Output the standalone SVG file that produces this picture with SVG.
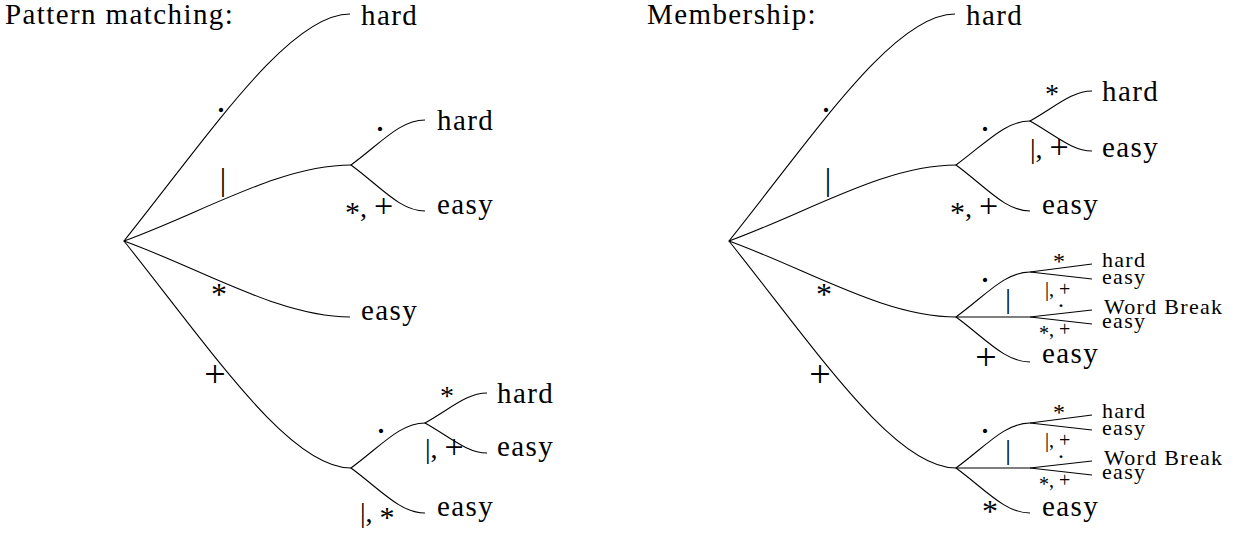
<svg xmlns="http://www.w3.org/2000/svg" width="1245" height="533" viewBox="0 0 1245 533">
<style>
text { font-family: "Liberation Serif", "DejaVu Serif", serif; fill: #000; }
.lf { font-size: 29px; letter-spacing: 1.4px; }
.sl { font-size: 22px; letter-spacing: 1.3px; }
.dot { font-size: 36px; text-anchor: middle; }
.bar { font-size: 32px; text-anchor: middle; }
.bar2 { font-size: 28px; text-anchor: middle; }
.ast { font-size: 32px; text-anchor: middle; }
.ast2 { font-size: 28px; text-anchor: middle; }
.pls { font-size: 38px; text-anchor: middle; }
.lab { font-size: 28px; }
.sm { font-size: 20px; }
.smc { font-size: 24px; text-anchor: middle; }
.edges path { fill: none; stroke: #000; stroke-width: 1.1; }
</style>
<rect width="1245" height="533" fill="#fff"/>
<g id="connectors" class="edges">
<path d="M124,241 C214,128 290,14 350,14"/>
<path d="M124,241 C204,212 280,165 351,165"/>
<path d="M124,241 C204,270 280,317 350,317"/>
<path d="M124,241 C214,354 290,468 351,468"/>
<path d="M351,165 C381,143 400,120 425,120"/>
<path d="M351,165 C381,187 400,211 425,211"/>
<path d="M351,468 C381,446 400,423 425,423"/>
<path d="M351,468 C381,490 400,513 425,513"/>
<path d="M425,423 C450,409 467,393 487,393"/>
<path d="M425,423 C450,437 467,453 487,453"/>
<path d="M729,241 C819,128 895,14 955,14"/>
<path d="M729,241 C809,212 885,165 956,165"/>
<path d="M729,241 C809,270 885,317 956,317"/>
<path d="M729,241 C819,354 895,468 956,468"/>
<path d="M956,165 C986,143 1005,121 1030,121"/>
<path d="M956,165 C986,187 1005,211 1030,211"/>
<path d="M1030,121 C1055,107 1072,91 1092,91"/>
<path d="M1030,121 C1055,135 1072,151 1092,151"/>
<path d="M956,317 C986,295 1005,272 1030,272"/>
<path d="M956,317 L1030,317"/>
<path d="M956,317 C986,339 1005,362 1030,362"/>
<path d="M1030,272 L1092,264"/>
<path d="M1030,272 L1092,279"/>
<path d="M1030,317 L1092,310"/>
<path d="M1030,317 L1092,324"/>
<path d="M956,468 C986,446 1005,423 1030,423"/>
<path d="M956,468 L1030,468"/>
<path d="M956,468 C986,490 1005,513 1030,513"/>
<path d="M1030,423 L1092,415"/>
<path d="M1030,423 L1092,430"/>
<path d="M1030,468 L1092,461"/>
<path d="M1030,468 L1092,475"/>
</g>
<g id="edge-labels">
<text class="dot" x="221" y="122">·</text>
<text class="bar" x="223" y="190">|</text>
<text class="ast" x="219" y="305">*</text>
<text class="pls" x="215" y="387">+</text>
<text class="dot" x="380" y="141">·</text>
<text class="lab" x="345" y="217"><tspan font-size="30" dy="5">*</tspan><tspan dy="-5">, </tspan><tspan font-size="34">+</tspan></text>
<text class="dot" x="381" y="443">·</text>
<text class="ast2" x="447" y="405">*</text>
<text class="lab" x="425" y="458">|, <tspan font-size="34">+</tspan></text>
<text class="lab" x="360" y="522">|, <tspan font-size="30" dy="5">*</tspan></text>
<text class="dot" x="826" y="122">·</text>
<text class="bar" x="828" y="190">|</text>
<text class="ast" x="824" y="305">*</text>
<text class="pls" x="820" y="387">+</text>
<text class="dot" x="985" y="141">·</text>
<text class="lab" x="950" y="217"><tspan font-size="30" dy="5">*</tspan><tspan dy="-5">, </tspan><tspan font-size="34">+</tspan></text>
<text class="ast2" x="1052" y="103">*</text>
<text class="lab" x="1030" y="158">|, <tspan font-size="34">+</tspan></text>
<text class="dot" x="985" y="292">·</text>
<text class="bar2" x="1008" y="308">|</text>
<text class="smc" x="1059" y="269">*</text>
<text class="sm" x="1045" y="296">|, +</text>
<text class="smc" x="1061" y="313">·</text>
<text class="sm" x="1039" y="336"><tspan dy="4">*</tspan><tspan dy="-4">, +</tspan></text>
<text class="pls" x="986" y="370">+</text>
<text class="dot" x="985" y="443">·</text>
<text class="bar2" x="1008" y="459">|</text>
<text class="smc" x="1059" y="420">*</text>
<text class="sm" x="1045" y="447">|, +</text>
<text class="smc" x="1061" y="464">·</text>
<text class="sm" x="1039" y="487"><tspan dy="4">*</tspan><tspan dy="-4">, +</tspan></text>
<text class="ast" x="990" y="522">*</text>
</g>
<g id="title-left"><text class="lf" x="5" y="24">Pattern matching:</text></g>
<g id="title-right"><text class="lf" x="647" y="24">Membership:</text></g>
<g id="L-root"><circle cx="124" cy="241" r="0.6" fill="#000"/></g>
<g id="L-hard1"><text class="lf" x="361" y="25">hard</text></g>
<g id="L-nA"><circle cx="351" cy="165" r="0.6" fill="#000"/></g>
<g id="L-hard2"><text class="lf" x="437" y="130">hard</text></g>
<g id="L-easy1"><text class="lf" x="437" y="214">easy</text></g>
<g id="L-easy2"><text class="lf" x="361" y="320">easy</text></g>
<g id="L-nB"><circle cx="351" cy="468" r="0.6" fill="#000"/></g>
<g id="L-nC"><circle cx="425" cy="423" r="0.6" fill="#000"/></g>
<g id="L-hard3"><text class="lf" x="497" y="403">hard</text></g>
<g id="L-easy3"><text class="lf" x="497" y="456">easy</text></g>
<g id="L-easy4"><text class="lf" x="437" y="516">easy</text></g>
<g id="R-root"><circle cx="729" cy="241" r="0.6" fill="#000"/></g>
<g id="R-hard1"><text class="lf" x="966" y="25">hard</text></g>
<g id="R-nA"><circle cx="956" cy="165" r="0.6" fill="#000"/></g>
<g id="R-nC"><circle cx="1030" cy="121" r="0.6" fill="#000"/></g>
<g id="R-hard2"><text class="lf" x="1102" y="101">hard</text></g>
<g id="R-easy1"><text class="lf" x="1102" y="157">easy</text></g>
<g id="R-easy2"><text class="lf" x="1042" y="214">easy</text></g>
<g id="R-nD"><circle cx="956" cy="317" r="0.6" fill="#000"/></g>
<g id="R-D-hard"><text class="sl" x="1102" y="267">hard</text></g>
<g id="R-D-easy1"><text class="sl" x="1102" y="284">easy</text></g>
<g id="R-D-wb"><text class="sl" x="1104" y="314">Word Break</text></g>
<g id="R-D-easy2"><text class="sl" x="1102" y="328">easy</text></g>
<g id="R-D-easy3"><text class="lf" x="1042" y="363">easy</text></g>
<g id="R-nE"><circle cx="956" cy="468" r="0.6" fill="#000"/></g>
<g id="R-E-hard"><text class="sl" x="1102" y="418">hard</text></g>
<g id="R-E-easy1"><text class="sl" x="1102" y="435">easy</text></g>
<g id="R-E-wb"><text class="sl" x="1104" y="465">Word Break</text></g>
<g id="R-E-easy2"><text class="sl" x="1102" y="479">easy</text></g>
<g id="R-E-easy3"><text class="lf" x="1042" y="516">easy</text></g>
</svg>
